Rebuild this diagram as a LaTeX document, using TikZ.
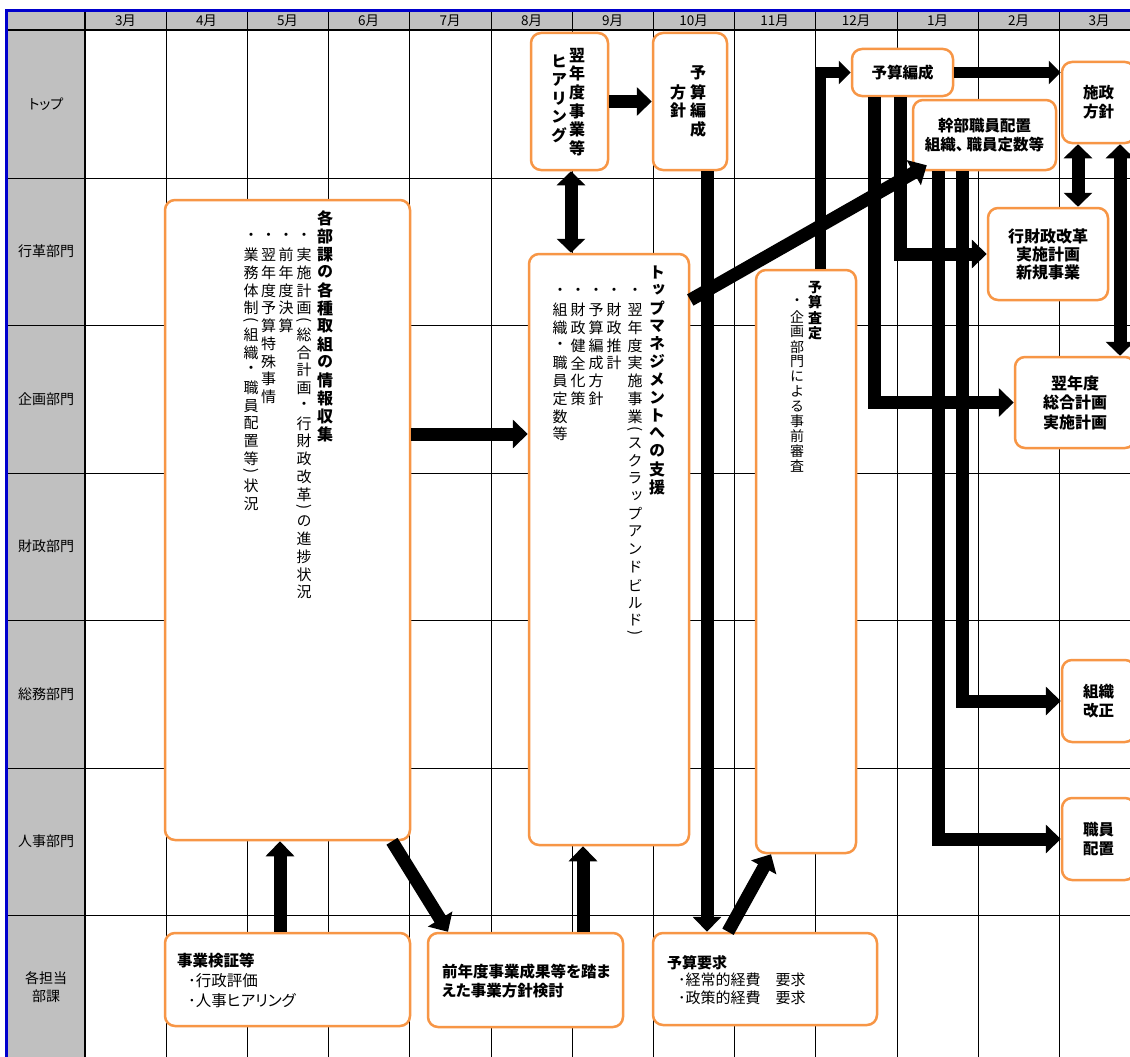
\documentclass[tikz,border=0pt]{standalone}
\usepackage{fontspec}
\usepackage{graphicx}
\setmainfont{Noto Sans CJK JP}[RawFeature=+palt]
\newfontfamily\jpv{Noto Sans CJK JP}[RawFeature=+vert]
\usetikzlibrary{arrows.meta,calc}
\definecolor{boxor}{HTML}{F79646}
\definecolor{gridgray}{HTML}{C0C0C0}
\definecolor{frameblue}{HTML}{0000CC}
% vertical text: one character per cell
\newlength\vstep
\def\Popen{(}
\def\Pclose{)}
\def\VC#1#2{\vtop{\offinterlineskip\setlength\vstep{#1}\VCa#2\relax}}
\def\VCa#1{\ifx\relax#1\else\VCc{#1}\expandafter\VCa\fi}
\def\VCc#1{%
  \ifx#1\Popen\vbox to .5\vstep{\vss\hbox to 1.2em{\hss\rotatebox[origin=c]{-90}{(}\hss}\vss}%
  \else\ifx#1\Pclose\vbox to .5\vstep{\vss\hbox to 1.2em{\hss\rotatebox[origin=c]{-90}{)}\hss}\vss}%
  \else\vbox to \vstep{\vss\hbox to 1.2em{\hss#1\hss}\vss}\fi\fi}
\begin{document}
\begin{tikzpicture}[x=1pt,y=-1pt,
  gridline/.style={line width=0.9pt, black},
  hdr/.style={font=\fontsize{13.5}{15}\selectfont, inner sep=0pt},
  rowlab/.style={font=\fontsize{14}{18}\selectfont, align=center, inner sep=0pt},
  obox/.style={draw=boxor, line width=2.5pt, rounded corners=10pt, fill=white, inner sep=0pt, align=center},
  btxt/.style={font=\bfseries\fontsize{15.5}{19}\selectfont},
  vtitle/.style={anchor=north, inner sep=0pt, font=\jpv\bfseries\fontsize{16}{18}\selectfont},
  vbody/.style={anchor=north, inner sep=0pt, font=\jpv\fontsize{15}{18}\selectfont},
  ltxt/.style={anchor=west, align=left, inner sep=0pt},
  blk/.style={line width=13pt, line join=miter, -{Triangle[length=15pt,width=28pt]}},
  thinblk/.style={line width=11pt, line join=miter, -{Triangle[length=12pt,width=23pt]}},
  dblk/.style={line width=13pt, {Triangle[length=14pt,width=28pt]}-{Triangle[length=14pt,width=28pt]}}
]
\useasboundingbox (0,0) rectangle (1130,1057);
% table
\fill[white] (0,0) rectangle (1130,1057);
\fill[gridgray] (8,12) rectangle (85,1057);
\fill[gridgray] (85,12) rectangle (1130,30);
\foreach \y in {178,325,473,620,768,915} \draw[gridline] (8,\y) -- (1130,\y);
\foreach \x in {166,247,328,409,491,572,653,734,815,897,978,1059} \draw[gridline] (\x,12) -- (\x,1057);
\draw[line width=2pt] (8,30) -- (1130,30);
\draw[line width=2.5pt] (85,12) -- (85,1057);
\draw[frameblue, line width=3pt] (6.5,1057) -- (6.5,10.5) -- (1130,10.5);
% month headers
\foreach \x/\m [count=\i] in {125.5/3,206.5/4,287.5/5,368.5/6,450/7,531.5/8,612.5/9,693.5/10,774.5/11,856/12,937.5/1,1018.5/2,1099/3}
  \node[hdr] (mon\i) at (\x,21) {\m 月};
% row labels
\node[rowlab] (r1) at (46,104) {トップ};
\node[rowlab] (r2) at (46,251.5) {行革部門};
\node[rowlab] (r3) at (46,399) {企画部門};
\node[rowlab] (r4) at (46,546.5) {財政部門};
\node[rowlab] (r5) at (46,694) {総務部門};
\node[rowlab] (r6) at (46,841.5) {人事部門};
\node[rowlab] (r7) at (46,987) {各担当\\部課};
% boxes
\node[obox, minimum width=77pt, minimum height=137pt] (hear) at (569.5,101.5) {};
\node[obox, minimum width=74pt, minimum height=137pt] (hoshin) at (690,101.5) {};
\node[obox, minimum width=101pt, minimum height=47pt, btxt] (hensei) at (902.5,72.5) {予算編成};
\node[obox, minimum width=143pt, minimum height=70pt, btxt] (kanbu) at (984.5,135) {幹部職員配置\\組織、\hspace{3pt}職員定数等};
\node[obox, minimum width=73pt, minimum height=81pt, btxt] (shisei) at (1098.5,102.5) {施政\\方針};
\node[obox, minimum width=120pt, minimum height=92pt, font=\bfseries\fontsize{16}{18}\selectfont] (gyozai) at (1048,254) {行財政改革\\実施計画\\新規事業};
\node[obox, minimum width=120pt, minimum height=91pt, font=\bfseries\fontsize{16}{19.5}\selectfont] (yokunen) at (1075,402.5) {翌年度\\総合計画\\実施計画};
\node[obox, minimum width=73pt, minimum height=82pt, btxt] (soshiki) at (1098.5,701) {組織\\改正};
\node[obox, minimum width=73pt, minimum height=82pt, btxt] (shokuin) at (1098.5,839) {職員\\配置};
\node[obox, minimum width=245pt, minimum height=640pt] (kakubu) at (287.5,520) {};
\node[obox, minimum width=160pt, minimum height=591pt] (topm) at (609,549.5) {};
\node[obox, minimum width=100pt, minimum height=583pt] (satei) at (806,561.5) {};
\node[obox, minimum width=245pt, minimum height=93pt] (kensho) at (287.5,979.5) {};
\node[obox, minimum width=195pt, minimum height=94pt] (zennen) at (525.5,980) {};
\node[obox, minimum width=224pt, minimum height=92pt] (yokyu) at (765,979) {};
% vertical texts
\node[vtitle] (h1) at (577,45.7) {\VC{18.6pt}{翌年度事業等}};
\node[vtitle] (h2) at (559,51.7) {\VC{18.6pt}{ヒアリング}};
\node[vtitle] (p1) at (698,63.6) {\VC{18.8pt}{予算編成}};
\node[vtitle] (p2) at (678,82.4) {\VC{18.8pt}{方針}};
\node[vtitle] (kt) at (325,209) {\VC{18pt}{各部課の各種取組の情報収集}};
\node[vbody] (k1) at (304,228.1) {\VC{17.75pt}{・実施計画\Popen 総合計画・行財政改革\Pclose の進捗状況}};
\node[vbody] (k2) at (286,228.1) {\VC{17.75pt}{・前年度決算}};
\node[vbody] (k3) at (268.5,228.1) {\VC{17.75pt}{・翌年度予算特殊事情}};
\node[vbody] (k4) at (251,228.1) {\VC{17.75pt}{・業務体制\Popen 組織・職員配置等\Pclose 状況}};
\node[vtitle] (tt) at (657,263) {\VC{17.9pt}{トップマネジメントへの支援}};
\node[vbody] (t1) at (635,283.1) {\VC{17.75pt}{・翌年度実施事業\Popen スクラップアンドビルド\Pclose}};
\node[vbody] (t2) at (614,283.1) {\VC{17.75pt}{・財政推計}};
\node[vbody] (t3) at (596,283.1) {\VC{17.75pt}{・予算編成方針}};
\node[vbody] (t4) at (578,283.1) {\VC{17.75pt}{・財政健全化策}};
\node[vbody] (t5) at (560,283.1) {\VC{17.75pt}{・組織・職員定数等}};
\node[vtitle, font=\jpv\bfseries\fontsize{14}{16}\selectfont] (st) at (815,279.4) {\VC{15.3pt}{予算査定}};
\node[vbody, font=\jpv\fontsize{14}{16}\selectfont] (s1) at (797,294.5) {\VC{14.9pt}{・企画部門による事前審査}};
% horizontal texts in bottom boxes
\node[ltxt, font=\fontsize{15.5}{20}\selectfont] (kt2) at (177,980) {\textbf{事業検証等}\\\hspace*{11pt}･行政評価\\\hspace*{11pt}･人事ヒアリング};
\node[ltxt, font=\bfseries\fontsize{15.5}{18.5}\selectfont] (zt) at (442,981) {前年度事業成果等を踏ま\\えた事業方針検討};
\node[ltxt, font=\fontsize{15}{17.5}\selectfont] (yt) at (667,980) {\textbf{予算要求}\\\hspace*{11pt}･経常的経費　要求\\\hspace*{11pt}･政策的経費　要求};
% arrows
\draw[blk] (hear.east) -- (hoshin.west);
\draw[dblk] (hear.south -| 571,0) -- (topm.north -| 571,0);
\draw[blk] (kakubu.east |- 0,434) -- (topm.west |- 0,434);
\draw[blk] (hoshin.south -| 707,0) -- (yokyu.north -| 707,0);
\draw[blk] (yokyu.north -| 728,0) -- (satei.south -| 771,0);
\draw[thinblk] (satei.north -| 820,0) |- (hensei.west);
\draw[thinblk] (hensei.east) -- (shisei.west |- hensei.east);
\draw[blk] (hensei.south -| 874,0) |- (yokunen.west);
\draw[blk] (hensei.south -| 900,0) |- (gyozai.west);
\draw[blk] (kanbu.south -| 938,0) |- (shokuin.west);
\draw[blk] (kanbu.south -| 962,0) |- (soshiki.west);
\draw[dblk] (shisei.south -| 1078,0) -- (gyozai.north -| 1078,0);
\draw[dblk] (shisei.south -| 1120,0) -- (yokunen.north -| 1120,0);
\draw[blk] (kensho.north -| 280,0) -- (kakubu.south -| 280,0);
\draw[blk] (kakubu.south -| 392,0) -- (zennen.north -| 448,0);
\draw[blk] (zennen.north -| 583,0) -- (topm.south -| 583,0);
\draw[blk] (topm.east |- 0,300) -- ($(kanbu.south west)+(15,-6)$);
\end{tikzpicture}
\end{document}
